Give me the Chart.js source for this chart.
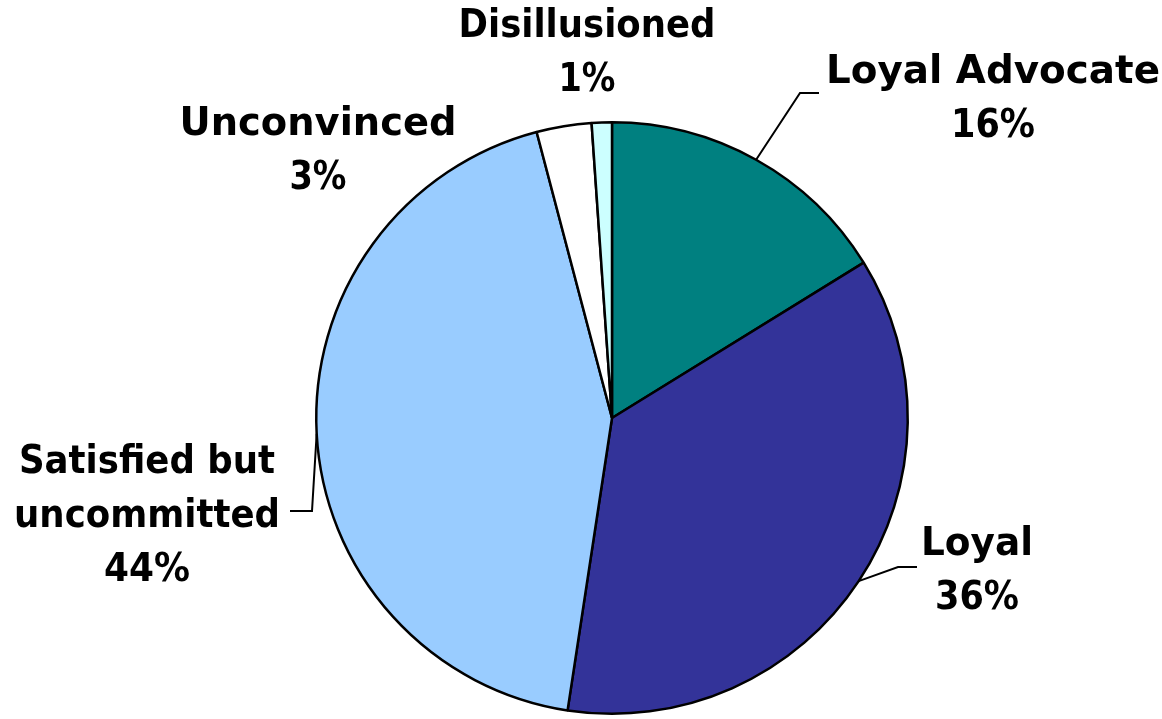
<!DOCTYPE html>
<html>
<head>
<meta charset="utf-8">
<script src="https://cdn.jsdelivr.net/npm/chart.js@4.4.1/dist/chart.umd.min.js"></script>
<style>
  html, body { margin: 0; padding: 0; background: #ffffff; }
  #wrap { position: relative; width: 1162px; height: 719px; }
</style>
</head>
<body>
<div id="wrap"><canvas id="c"></canvas></div>
<script>
// ---- data ----
const categories = ['Loyal Advocate', 'Loyal', 'Satisfied but uncommitted', 'Unconvinced', 'Disillusioned'];
const shares = [16.2, 36.2, 43.5, 3.0, 1.1];
const sliceColors = ['#008080', '#333399', '#99CCFF', '#FFFFFF', '#CCFFFF'];
const labelLines = [['Loyal Advocate'], ['Loyal'], ['Satisfied but', 'uncommitted'], ['Unconvinced'], ['Disillusioned']];

// ---- label layout (positions / widths only) ----
const FONT = 'bold 39.5px "DejaVu Sans"';
const LINE_H = 54;
const labelLayout = [
  { x: 993, y: 83,  maxW: [334, 84], leader: [[800, 93], [819, 93]] },
  { x: 977, y: 555, maxW: [112, 84], leader: [[898, 567], [917, 567]] },
  { x: 147, y: 473, maxW: [256, 266, 86], leader: [[312, 511], [290, 511]] },
  { x: 318, y: 135, maxW: [277, 57], leader: null },
  { x: 587, y: 37,  maxW: [257, 57], leader: null }
];

const labelPlugin = {
  id: 'pieLabels',
  afterDatasetsDraw(chart) {
    const ctx = chart.ctx;
    const meta = chart.getDatasetMeta(0);
    const data = chart.data.datasets[0].data;
    const total = data.reduce((a, b) => a + b, 0);
    ctx.save();
    ctx.font = FONT;
    ctx.fillStyle = '#000';
    ctx.textAlign = 'center';
    ctx.textBaseline = 'alphabetic';
    meta.data.forEach((arc, i) => {
      const L = labelLayout[i];
      const lines = labelLines[i].concat([Math.round(data[i] / total * 100) + '%']);
      lines.forEach((t, k) => {
        const mw = L.maxW[k];
        if (mw) ctx.fillText(t, L.x, L.y + k * LINE_H, mw);
        else ctx.fillText(t, L.x, L.y + k * LINE_H);
      });
      if (L.leader) {
        const mid = (arc.startAngle + arc.endAngle) / 2;
        const sx = arc.x + Math.cos(mid) * arc.outerRadius;
        const sy = arc.y + Math.sin(mid) * arc.outerRadius;
        ctx.beginPath();
        ctx.lineWidth = 2;
        ctx.strokeStyle = '#000';
        ctx.moveTo(sx, sy);
        L.leader.forEach(p => ctx.lineTo(p[0], p[1]));
        ctx.stroke();
      }
    });
    ctx.restore();
  }
};

new Chart(document.getElementById('c'), {
  type: 'pie',
  data: {
    labels: categories,
    datasets: [{
      data: shares,
      backgroundColor: sliceColors,
      borderColor: '#000000',
      borderWidth: 2.5,
      borderAlign: 'center'
    }]
  },
  options: {
    responsive: true,
    maintainAspectRatio: false,
    animation: false,
    rotation: 0,
    layout: { padding: { top: 121, bottom: 4, left: 62, right: 0 } },
    plugins: { legend: { display: false }, tooltip: { enabled: false } }
  },
  plugins: [labelPlugin]
});
</script>
</body>
</html>
